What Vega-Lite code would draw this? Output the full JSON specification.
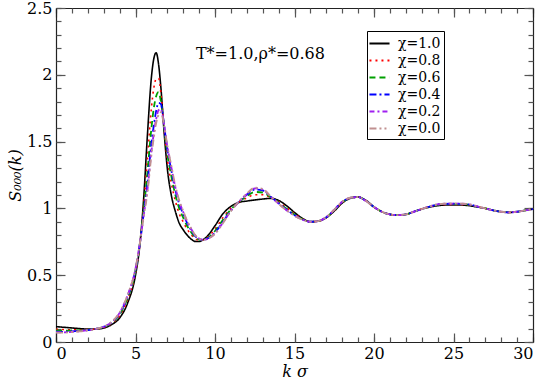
{
  "$schema": "https://vega.github.io/schema/vega-lite/v6.json",
  "width": 477,
  "height": 334,
  "autosize": {"type": "none"},
  "padding": {"left": 56, "top": 8, "right": 12, "bottom": 39},
  "background": "white",
  "data": {"values": [
    {"k":0,"a10":0.115,"a08":0.096,"a06":0.086,"a04":0.077,"a02":0.072,"a00":0.07},
    {"k":0.5,"a10":0.11,"a08":0.093,"a06":0.084,"a04":0.076,"a02":0.072,"a00":0.07},
    {"k":1,"a10":0.105,"a08":0.092,"a06":0.086,"a04":0.08,"a02":0.077,"a00":0.075},
    {"k":1.5,"a10":0.1,"a08":0.092,"a06":0.087,"a04":0.083,"a02":0.081,"a00":0.08},
    {"k":2,"a10":0.097,"a08":0.093,"a06":0.091,"a04":0.089,"a02":0.088,"a00":0.088},
    {"k":2.5,"a10":0.097,"a08":0.097,"a06":0.097,"a04":0.098,"a02":0.098,"a00":0.098},
    {"k":3,"a10":0.105,"a08":0.109,"a06":0.112,"a04":0.114,"a02":0.114,"a00":0.115},
    {"k":3.5,"a10":0.13,"a08":0.138,"a06":0.143,"a04":0.147,"a02":0.149,"a00":0.15},
    {"k":4,"a10":0.18,"a08":0.197,"a06":0.206,"a04":0.214,"a02":0.218,"a00":0.22},
    {"k":4.5,"a10":0.29,"a08":0.315,"a06":0.329,"a04":0.341,"a02":0.347,"a00":0.35},
    {"k":5,"a10":0.5,"a08":0.521,"a06":0.533,"a04":0.543,"a02":0.548,"a00":0.55},
    {"k":5.25,"a10":0.7,"a08":0.708,"a06":0.713,"a04":0.717,"a02":0.719,"a00":0.72},
    {"k":5.5,"a10":1.05,"a08":1.0,"a06":0.972,"a04":0.948,"a02":0.936,"a00":0.93},
    {"k":5.75,"a10":1.55,"a08":1.37,"a06":1.27,"a04":1.185,"a02":1.141,"a00":1.12},
    {"k":6,"a10":1.98,"a08":1.75,"a06":1.6,"a04":1.487,"a02":1.429,"a00":1.4},
    {"k":6.15,"a10":2.12,"a08":1.9,"a06":1.75,"a04":1.62,"a02":1.56,"a00":1.53},
    {"k":6.3,"a10":2.165,"a08":1.97,"a06":1.84,"a04":1.73,"a02":1.67,"a00":1.64},
    {"k":6.45,"a10":2.08,"a08":1.975,"a06":1.87,"a04":1.79,"a02":1.735,"a00":1.7},
    {"k":6.6,"a10":1.9,"a08":1.86,"a06":1.8,"a04":1.78,"a02":1.745,"a00":1.72},
    {"k":6.8,"a10":1.57,"a08":1.6,"a06":1.61,"a04":1.62,"a02":1.625,"a00":1.62},
    {"k":7,"a10":1.3,"a08":1.371,"a06":1.41,"a04":1.445,"a02":1.461,"a00":1.47},
    {"k":7.25,"a10":1.1,"a08":1.192,"a06":1.243,"a04":1.287,"a02":1.309,"a00":1.32},
    {"k":7.5,"a10":0.98,"a08":1.06,"a06":1.104,"a04":1.141,"a02":1.16,"a00":1.17},
    {"k":7.75,"a10":0.89,"a08":0.961,"a06":1.0,"a04":1.034,"a02":1.051,"a00":1.06},
    {"k":8,"a10":0.84,"a08":0.899,"a06":0.931,"a04":0.959,"a02":0.973,"a00":0.98},
    {"k":8.25,"a10":0.8,"a08":0.844,"a06":0.868,"a04":0.889,"a02":0.9,"a00":0.905},
    {"k":8.5,"a10":0.77,"a08":0.804,"a06":0.822,"a04":0.838,"a02":0.846,"a00":0.85},
    {"k":8.75,"a10":0.753,"a08":0.773,"a06":0.784,"a04":0.793,"a02":0.798,"a00":0.8},
    {"k":9,"a10":0.752,"a08":0.762,"a06":0.767,"a04":0.772,"a02":0.774,"a00":0.775},
    {"k":9.25,"a10":0.765,"a08":0.765,"a06":0.765,"a04":0.765,"a02":0.765,"a00":0.765},
    {"k":9.5,"a10":0.79,"a08":0.782,"a06":0.777,"a04":0.773,"a02":0.771,"a00":0.77},
    {"k":10,"a10":0.87,"a08":0.845,"a06":0.831,"a04":0.819,"a02":0.813,"a00":0.81},
    {"k":10.5,"a10":0.96,"a08":0.931,"a06":0.915,"a04":0.9,"a02":0.894,"a00":0.89},
    {"k":11,"a10":1.015,"a08":1.0,"a06":0.992,"a04":0.985,"a02":0.982,"a00":0.98},
    {"k":11.5,"a10":1.045,"a08":1.047,"a06":1.048,"a04":1.049,"a02":1.05,"a00":1.05},
    {"k":12,"a10":1.055,"a08":1.078,"a06":1.091,"a04":1.102,"a02":1.107,"a00":1.11},
    {"k":12.5,"a10":1.063,"a08":1.102,"a06":1.123,"a04":1.141,"a02":1.15,"a00":1.155},
    {"k":13,"a10":1.07,"a08":1.102,"a06":1.119,"a04":1.134,"a02":1.141,"a00":1.145},
    {"k":13.5,"a10":1.075,"a08":1.081,"a06":1.085,"a04":1.088,"a02":1.089,"a00":1.09},
    {"k":14,"a10":1.06,"a08":1.05,"a06":1.044,"a04":1.039,"a02":1.036,"a00":1.035},
    {"k":14.5,"a10":1.02,"a08":1.005,"a06":0.997,"a04":0.99,"a02":0.987,"a00":0.985},
    {"k":15,"a10":0.97,"a08":0.96,"a06":0.954,"a04":0.949,"a02":0.946,"a00":0.945},
    {"k":15.5,"a10":0.925,"a08":0.921,"a06":0.919,"a04":0.917,"a02":0.916,"a00":0.915},
    {"k":16,"a10":0.9,"a08":0.9,"a06":0.9,"a04":0.9,"a02":0.9,"a00":0.9},
    {"k":16.5,"a10":0.905,"a08":0.905,"a06":0.905,"a04":0.905,"a02":0.905,"a00":0.905},
    {"k":17,"a10":0.93,"a08":0.932,"a06":0.933,"a04":0.934,"a02":0.935,"a00":0.935},
    {"k":17.5,"a10":0.98,"a08":0.984,"a06":0.987,"a04":0.989,"a02":0.99,"a00":0.99},
    {"k":18,"a10":1.04,"a08":1.044,"a06":1.047,"a04":1.049,"a02":1.05,"a00":1.05},
    {"k":18.5,"a10":1.075,"a08":1.077,"a06":1.078,"a04":1.079,"a02":1.08,"a00":1.08},
    {"k":19,"a10":1.085,"a08":1.085,"a06":1.085,"a04":1.085,"a02":1.085,"a00":1.085},
    {"k":19.5,"a10":1.06,"a08":1.058,"a06":1.057,"a04":1.056,"a02":1.055,"a00":1.055},
    {"k":20,"a10":1.01,"a08":1.01,"a06":1.01,"a04":1.01,"a02":1.01,"a00":1.01},
    {"k":20.5,"a10":0.975,"a08":0.975,"a06":0.975,"a04":0.975,"a02":0.975,"a00":0.975},
    {"k":21,"a10":0.955,"a08":0.955,"a06":0.955,"a04":0.955,"a02":0.955,"a00":0.955},
    {"k":21.5,"a10":0.95,"a08":0.95,"a06":0.95,"a04":0.95,"a02":0.95,"a00":0.95},
    {"k":22,"a10":0.955,"a08":0.955,"a06":0.955,"a04":0.955,"a02":0.955,"a00":0.955},
    {"k":22.5,"a10":0.975,"a08":0.975,"a06":0.975,"a04":0.975,"a02":0.975,"a00":0.975},
    {"k":23,"a10":0.995,"a08":0.995,"a06":0.995,"a04":0.995,"a02":0.995,"a00":0.995},
    {"k":23.5,"a10":1.01,"a08":1.012,"a06":1.013,"a04":1.014,"a02":1.015,"a00":1.015},
    {"k":24,"a10":1.02,"a08":1.024,"a06":1.027,"a04":1.029,"a02":1.03,"a00":1.03},
    {"k":24.5,"a10":1.025,"a08":1.029,"a06":1.032,"a04":1.034,"a02":1.035,"a00":1.035},
    {"k":25,"a10":1.025,"a08":1.03,"a06":1.033,"a04":1.035,"a02":1.036,"a00":1.037},
    {"k":25.5,"a10":1.025,"a08":1.029,"a06":1.032,"a04":1.034,"a02":1.035,"a00":1.035},
    {"k":26,"a10":1.02,"a08":1.024,"a06":1.027,"a04":1.029,"a02":1.03,"a00":1.03},
    {"k":26.5,"a10":1.01,"a08":1.012,"a06":1.013,"a04":1.014,"a02":1.015,"a00":1.015},
    {"k":27,"a10":1.0,"a08":1.0,"a06":1.0,"a04":1.0,"a02":1.0,"a00":1.0},
    {"k":27.5,"a10":0.985,"a08":0.985,"a06":0.985,"a04":0.985,"a02":0.985,"a00":0.985},
    {"k":28,"a10":0.975,"a08":0.975,"a06":0.975,"a04":0.975,"a02":0.975,"a00":0.975},
    {"k":28.5,"a10":0.97,"a08":0.97,"a06":0.97,"a04":0.97,"a02":0.97,"a00":0.97},
    {"k":29,"a10":0.975,"a08":0.975,"a06":0.975,"a04":0.975,"a02":0.975,"a00":0.975},
    {"k":29.5,"a10":0.985,"a08":0.985,"a06":0.985,"a04":0.985,"a02":0.985,"a00":0.985},
    {"k":30,"a10":0.995,"a08":0.995,"a06":0.995,"a04":0.995,"a02":0.995,"a00":0.995}
  ]},
  "layer": [
    {
      "transform": [
        {"fold": ["a10","a08","a06","a04","a02","a00"], "as": ["chi","S"]},
        {"filter": {"field": "chi", "oneOf": ["a10","a08"]}}
      ],
      "mark": {"type": "line", "strokeWidth": 1.6, "interpolate": "monotone"},
      "encoding": {
        "x": {"field": "k", "type": "quantitative", "scale": {"domain": [0,30], "nice": false},
          "axis": {"orient": "bottom", "values": [0,5,10,15,20,25,30], "tickSize": -9, "labelPadding": 12, "title": "k σ", "titleFontStyle": "italic", "titlePadding": 2}},
        "y": {"field": "S", "type": "quantitative", "scale": {"domain": [0,2.5], "nice": false},
          "axis": {"orient": "left", "values": [0,0.5,1,1.5,2,2.5], "format": "~g", "tickSize": -9, "labelPadding": 13, "title": "S₀₀₀(k)", "titleFontStyle": "italic", "titlePadding": 3}},
        "color": {"field": "chi", "type": "nominal",
          "scale": {"domain": ["a10","a08","a06","a04","a02","a00"], "range": ["#000000","#ff0000","#00a000","#0000ff","#a020f0","#c09090"]},
          "legend": {"orient": "none", "legendX": 311, "legendY": 23, "title": null, "strokeColor": "#000", "fillColor": "#fff", "padding": 3, "rowPadding": 0, "labelFont": "DejaVu Serif", "labelFontSize": 14, "labelColor": "#000", "labelOffset": 9, "symbolType": "M-1.2,0H1.2", "symbolSize": 280, "symbolStrokeWidth": 1.8,
            "labelExpr": "{'a10':'χ=1.0','a08':'χ=0.8','a06':'χ=0.6','a04':'χ=0.4','a02':'χ=0.2','a00':'χ=0.0'}[datum.label]"}},
        "strokeDash": {"field": "chi", "type": "nominal",
          "scale": {"domain": ["a10","a08","a06","a04","a02","a00"], "range": [[1,0],[2,4],[6,4],[7,3,2,3],[5,3,2,3],[7,3,2,3,2,3]]},
          "legend": {"orient": "none", "legendX": 311, "legendY": 23, "title": null, "strokeColor": "#000", "fillColor": "#fff", "padding": 3, "rowPadding": 0, "labelFont": "DejaVu Serif", "labelFontSize": 14, "labelColor": "#000", "labelOffset": 9, "symbolType": "M-1.2,0H1.2", "symbolSize": 280, "symbolStrokeWidth": 1.8,
            "labelExpr": "{'a10':'χ=1.0','a08':'χ=0.8','a06':'χ=0.6','a04':'χ=0.4','a02':'χ=0.2','a00':'χ=0.0'}[datum.label]"}}
      }
    },
    {
      "transform": [
        {"fold": ["a10","a08","a06","a04","a02","a00"], "as": ["chi","S"]},
        {"filter": {"field": "chi", "oneOf": ["a06","a04"]}}
      ],
      "mark": {"type": "line", "strokeWidth": 1.8, "interpolate": "monotone"},
      "encoding": {
        "x": {"field": "k", "type": "quantitative", "scale": {"domain": [0,30], "nice": false},
          "axis": {"orient": "bottom", "values": [0,1,2,3,4,5,6,7,8,9,10,11,12,13,14,15,16,17,18,19,20,21,22,23,24,25,26,27,28,29,30], "tickSize": -5, "labels": false, "title": null, "domain": false}},
        "y": {"field": "S", "type": "quantitative", "scale": {"domain": [0,2.5], "nice": false},
          "axis": {"orient": "left", "values": [0,0.1,0.2,0.3,0.4,0.5,0.6,0.7,0.8,0.9,1,1.1,1.2,1.3,1.4,1.5,1.6,1.7,1.8,1.9,2,2.1,2.2,2.3,2.4,2.5], "tickSize": -5, "labels": false, "title": null, "domain": false}},
        "color": {"field": "chi", "type": "nominal"},
        "strokeDash": {"field": "chi", "type": "nominal"}
      }
    },
    {
      "transform": [
        {"fold": ["a10","a08","a06","a04","a02","a00"], "as": ["chi","S"]},
        {"filter": {"field": "chi", "oneOf": ["a02","a00"]}}
      ],
      "mark": {"type": "line", "strokeWidth": 1.9, "interpolate": "monotone"},
      "encoding": {
        "x": {"field": "k", "type": "quantitative", "scale": {"domain": [0,30], "nice": false},
          "axis": {"orient": "top", "values": [0,5,10,15,20,25,30], "tickSize": -9, "labels": false, "title": null}},
        "y": {"field": "S", "type": "quantitative", "scale": {"domain": [0,2.5], "nice": false},
          "axis": {"orient": "right", "values": [0,0.5,1,1.5,2,2.5], "tickSize": -9, "labels": false, "title": null}},
        "color": {"field": "chi", "type": "nominal"},
        "strokeDash": {"field": "chi", "type": "nominal"}
      }
    },
    {
      "data": {"values": [{"label": "T*=1.0,ρ*=0.68"}]},
      "mark": {"type": "text", "align": "left", "baseline": "alphabetic", "font": "DejaVu Serif", "fontSize": 16, "color": "#000"},
      "encoding": {
        "text": {"field": "label", "type": "nominal"},
        "x": {"datum": 8.8, "type": "quantitative", "scale": {"domain": [0,30], "nice": false},
          "axis": {"orient": "top", "values": [0,1,2,3,4,5,6,7,8,9,10,11,12,13,14,15,16,17,18,19,20,21,22,23,24,25,26,27,28,29,30], "tickSize": -5, "labels": false, "title": null, "domain": false}},
        "y": {"datum": 2.12, "type": "quantitative", "scale": {"domain": [0,2.5], "nice": false},
          "axis": {"orient": "right", "values": [0,0.1,0.2,0.3,0.4,0.5,0.6,0.7,0.8,0.9,1,1.1,1.2,1.3,1.4,1.5,1.6,1.7,1.8,1.9,2,2.1,2.2,2.3,2.4,2.5], "tickSize": -5, "labels": false, "title": null, "domain": false}}
      }
    }
  ],
  "resolve": {"axis": {"x": "independent", "y": "independent"}},
  "config": {
    "view": {"stroke": null},
    "axis": {"grid": false, "domainColor": "#222", "domainWidth": 1.2, "tickColor": "#555", "tickWidth": 1.2, "labelFont": "DejaVu Serif", "titleFont": "DejaVu Serif", "labelFontSize": 16, "titleFontSize": 16, "labelColor": "#000", "titleColor": "#000", "titleFontWeight": "normal"}
  }
}
